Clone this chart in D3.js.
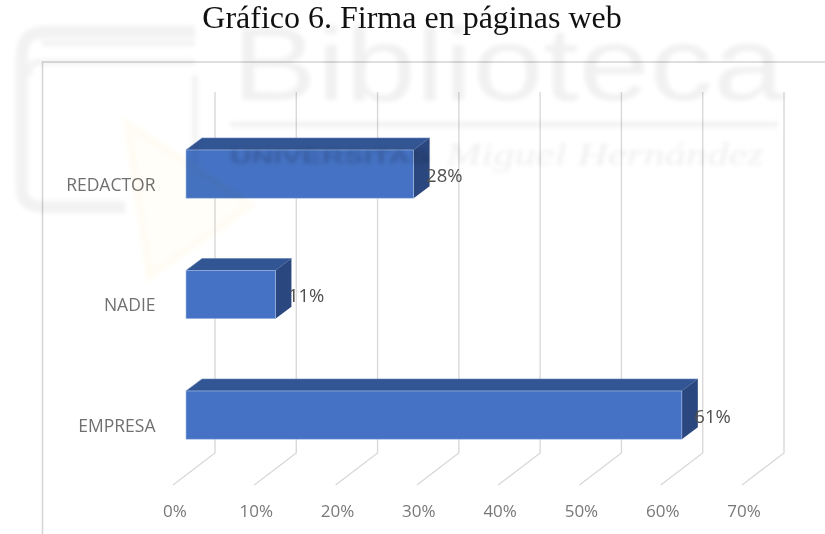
<!DOCTYPE html>
<html><head><meta charset="utf-8">
<script src="https://cdn.jsdelivr.net/npm/d3@7"></script>
<style>html,body{margin:0;padding:0;background:#fff}svg{display:block}</style>
</head><body><svg id="c" width="825" height="534"></svg>
<script>
const categories = ["REDACTOR", "NADIE", "EMPRESA"];
const values = [0.28, 0.11, 0.61];
const valueLabels = ["28%", "11%", "61%"];
const tickValues = [0, 0.1, 0.2, 0.3, 0.4, 0.5, 0.6, 0.7];
const titleText = "Gráfico 6. Firma en páginas web";

const svg = d3.select("#c");
const defs = svg.append("defs");
defs.append("filter").attr("id","soft").attr("x","-5%").attr("y","-5%").attr("width","110%").attr("height","110%")
  .append("feGaussianBlur").attr("stdDeviation",0.45);
defs.append("filter").attr("id","wm").attr("x","-5%").attr("y","-20%").attr("width","110%").attr("height","140%")
  .append("feGaussianBlur").attr("stdDeviation",1.9);

const FONT = "'Open Sans', sans-serif";
const xBack = d3.scaleLinear().domain([0,0.7]).range([215,784]);
const barInset = 29, floorDx = 42, floorDy = 32, depthX = 16, depthY = 12;
const xBar = v => xBack(v) - barInset;
const yBand = d3.scaleBand().domain(categories).range([113.85,475.35]).paddingInner(0.6).paddingOuter(0.3);
const gridTop = 92, gridFloor = 453;

const root = svg.append("g").attr("filter","url(#soft)");

// frame
root.append("path").attr("d","M42.5,534V62H825").attr("fill","none").attr("stroke","#d4d4d4").attr("stroke-width",1.5);

// gridlines with floor diagonals
root.append("g").selectAll("path").data(tickValues).join("path")
  .attr("d",d=>`M${xBack(d)},${gridTop}V${gridFloor}L${xBack(d)-floorDx},${gridFloor+floorDy}`)
  .attr("fill","none").attr("stroke","#d9d9d9").attr("stroke-width",1.4);

// axis labels
root.append("g").selectAll("text").data(tickValues).join("text")
  .attr("x",d=>xBack(d)-floorDx+2).attr("y",516.5).attr("text-anchor","middle")
  .attr("font-family",FONT).attr("font-size",17).attr("fill","#787878")
  .text(d3.format(".0%"));

// category labels
root.append("g").selectAll("text").data(categories).join("text")
  .attr("x",155.5).attr("y",d=>yBand(d)+yBand.bandwidth()/2+16.5).attr("text-anchor","end")
  .attr("font-family",FONT).attr("font-size",17.5).attr("fill","#707070")
  .text(d=>d);

// bars
const rows = categories.map((c,i)=>({c,v:values[i],l:valueLabels[i]}));
const bars = root.append("g").selectAll("g").data(rows).join("g");
bars.append("path").attr("fill","#335593").attr("stroke","#5f7fb8").attr("stroke-width",0.6)
  .attr("d",d=>{const x0=xBar(0),x1=xBar(d.v),t=yBand(d.c);return `M${x0},${t}L${x0+depthX},${t-depthY}H${x1+depthX}L${x1},${t}Z`;});
bars.append("path").attr("fill","#2a477f")
  .attr("d",d=>{const x1=xBar(d.v),t=yBand(d.c),b=t+yBand.bandwidth();return `M${x1},${t}L${x1+depthX},${t-depthY}V${b-depthY}L${x1},${b}Z`;});
bars.append("rect").attr("x",xBar(0)).attr("y",d=>yBand(d.c)).attr("width",d=>xBar(d.v)-xBar(0)).attr("height",yBand.bandwidth())
  .attr("fill","#4472c4").attr("stroke","#a9bde3").attr("stroke-width",0.6);

// value labels
bars.append("text").attr("x",d=>xBar(d.v)+depthX-3.5).attr("y",d=>yBand(d.c)+yBand.bandwidth()/2+7.5)
  .attr("font-family",FONT).attr("font-size",18.5).attr("fill","#505050").text(d=>d.l);

// watermark, laid over the chart as in the scanned page
const wm = svg.append("g").attr("filter","url(#wm)").style("mix-blend-mode","multiply");
wm.append("path").attr("d","M195,32H45Q22,32 22,55V190Q22,207 45,207H125").attr("fill","none").attr("stroke","#f2f2f2").attr("stroke-width",12);
wm.append("path").attr("d","M195,43H42M195,62H40Q28,62 30,75M195,75V170").attr("fill","none").attr("stroke","#f3f3f3").attr("stroke-width",6);
wm.append("path").attr("d","M128,125L250,205L150,275Z").attr("fill","#fffef9").attr("stroke","#fefcf3").attr("stroke-width",8);
wm.append("text").attr("x",232).attr("y",100).attr("font-family","'Liberation Sans',sans-serif").attr("font-size",104)
  .attr("textLength",552).attr("lengthAdjust","spacingAndGlyphs").attr("fill","#f1f1f1").text("Biblioteca");
wm.append("rect").attr("x",230).attr("y",122).attr("width",548).attr("height",5).attr("fill","#f1f1f1");
wm.append("text").attr("x",230).attr("y",163).attr("font-family","'Liberation Sans',sans-serif").attr("font-weight","bold").attr("font-size",18)
  .attr("textLength",200).attr("lengthAdjust","spacingAndGlyphs").attr("fill","#9a9a9a").attr("opacity",0.45).text("UNIVERSITAS");
wm.append("text").attr("x",446).attr("y",165).attr("font-family","'Liberation Serif',serif").attr("font-style","italic").attr("font-size",32)
  .attr("textLength",318).attr("lengthAdjust","spacingAndGlyphs").attr("fill","#efefef").text("Miguel Hernández");

// title
svg.append("text").attr("x",412).attr("y",28).attr("text-anchor","middle")
  .attr("font-family","'Liberation Serif',serif").attr("font-size",32).attr("fill","#111").text(titleText);
</script></body></html>
